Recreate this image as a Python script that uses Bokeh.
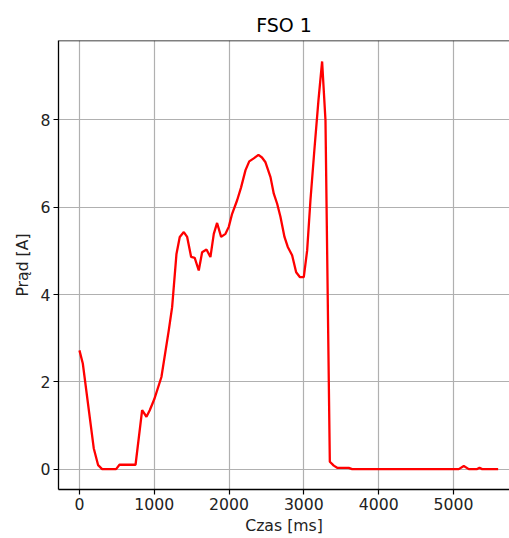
from bokeh.plotting import figure
from bokeh.models import Range1d, FixedTicker, Span
from bokeh.embed import file_html
from bokeh.resources import INLINE

czas = [0, 45, 191, 250, 303, 490, 535, 750, 838, 896, 940, 1000, 1096, 1194, 1239,
        1297, 1341, 1395, 1440, 1493, 1541, 1595, 1640, 1698, 1751, 1796, 1840, 1894,
        1952, 1996, 2041, 2108, 2160, 2220, 2270, 2330, 2393, 2440, 2487, 2554, 2598,
        2643, 2687, 2741, 2785, 2843, 2897, 2946, 2999, 3044, 3088, 3140, 3195, 3244,
        3289, 3347, 3400, 3445, 3600, 3645, 5071, 5138, 5205, 5317, 5348, 5383, 5597]
prad = [2.72, 2.42, 0.48, 0.09, 0.0, 0.0, 0.1, 0.1, 1.35, 1.2, 1.35, 1.6, 2.11, 3.18, 3.71,
        4.93, 5.32, 5.43, 5.32, 4.86, 4.84, 4.55, 4.97, 5.03, 4.86, 5.39, 5.64, 5.32,
        5.39, 5.55, 5.85, 6.16, 6.45, 6.85, 7.05, 7.12, 7.2, 7.14, 7.03, 6.69, 6.31,
        6.08, 5.78, 5.32, 5.09, 4.9, 4.51, 4.4, 4.4, 5.01, 6.16, 7.3, 8.45, 9.34,
        7.99, 0.17, 0.08, 0.03, 0.03, 0.0, 0.0, 0.07, 0.0, 0.0, 0.03, 0.0, 0.0]
x_ticks = [0, 1000, 2000, 3000, 4000, 5000]
y_ticks = [0, 2, 4, 6, 8]

FONT = "DejaVu Sans"
y_end = 9.82

p = figure(width=509, height=538, output_backend="svg", toolbar_location=None,
           x_range=Range1d(-280, 5749), y_range=Range1d(-0.467, y_end),
           min_border_left=58, min_border_right=0, min_border_top=40, min_border_bottom=49)

p.title.text = "FSO 1"
p.title.align = "center"
p.title.offset = 5
p.title.text_font = FONT
p.title.text_font_size = "19px"
p.title.text_font_style = "normal"
p.title.text_color = "black"

p.line(czas, prad, line_color="red", line_width=2.3)

p.outline_line_color = None
p.background_fill_color = "white"
p.border_fill_color = "white"

top = Span(location=y_end, dimension="width", line_color="black", line_width=1.3)
p.add_layout(top)

for ax, ticks, label in ((p.xaxis[0], x_ticks, "Czas [ms]"), (p.yaxis[0], y_ticks, "Prąd [A]")):
    ax.ticker = FixedTicker(ticks=ticks)
    ax.minor_tick_line_color = None
    ax.major_tick_in = 0
    ax.major_tick_out = 5
    ax.major_tick_line_color = "black"
    ax.major_tick_line_width = 1.2
    ax.axis_line_color = "black"
    ax.axis_line_width = 1.3
    ax.major_label_text_font = FONT
    ax.major_label_text_font_size = "15.7px"
    ax.major_label_text_color = "#222222"
    ax.axis_label = label
    ax.axis_label_text_font = FONT
    ax.axis_label_text_font_size = "15.7px"
    ax.axis_label_text_font_style = "normal"
    ax.axis_label_text_color = "#222222"
    ax.major_label_standoff = 3
    ax.axis_label_standoff = 3

p.yaxis[0].axis_label_standoff = 6

p.xgrid.ticker = FixedTicker(ticks=x_ticks)
p.ygrid.ticker = FixedTicker(ticks=y_ticks)
for g in (p.xgrid[0], p.ygrid[0]):
    g.grid_line_color = "#b0b0b0"
    g.grid_line_width = 1.2

open("out.html", "w").write(file_html(p, INLINE))
